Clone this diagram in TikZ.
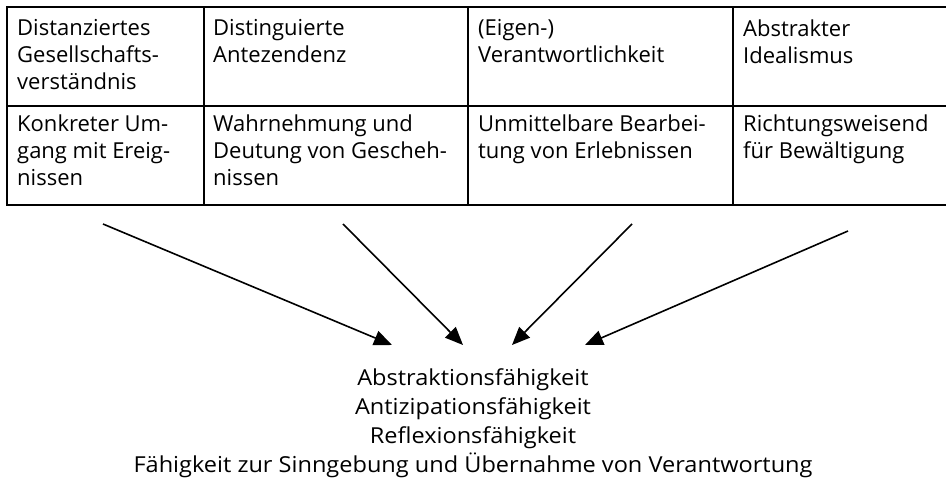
\documentclass[tikz,border=0pt]{standalone}
\usepackage{fontspec}
\setmainfont{Open Sans}
\newfontfamily\goalfamily[FakeStretch=1.07]{Open Sans}
\usepackage{tikz}
\usetikzlibrary{arrows.meta}

\newcommand{\cellfont}{\fontsize{22}{27}\selectfont}
\newcommand{\goalfont}{\goalfamily\fontsize{22}{28.7}\selectfont}

\begin{document}
\begin{tikzpicture}
  [x=1pt,y=-1pt,
   every node/.style={inner sep=0pt, anchor=north west, align=left, font=\cellfont,
     execute at begin node=\strut},
   grid/.style={line width=2pt},
   pointer/.style={line width=1.6pt, -{Triangle[length=18pt,width=15pt]}}]
  \useasboundingbox (0,0) rectangle (946,481);

  % table
  \draw [grid] (946,7) -- (7,7) -- (7,205) -- (946,205);
  \draw [grid] (7,106) -- (946,106);
  \foreach \x in {204,468,733}
    \draw [grid] (\x,7) -- (\x,205);

  \node (A) at (17,19.5) {Distanziertes\\Gesellschafts-\\verständnis};
  \node (B) at (213,19.5) {Distinguierte\\Antezendenz};
  \node (C) at (478,19.5) {(Eigen-)\\Verantwortlichkeit};
  \node (D) at (743,19.5) {Abstrakter\\Idealismus};

  \node (AA) at (17,114.1) {Konkreter Um-\\gang mit Ereig-\\nissen};
  \node (BB) at (213,114.1) {Wahrnehmung und\\Deutung von Gescheh-\\nissen};
  \node (CC) at (478,114.1) {Unmittelbare Bearbei-\\tung von Erlebnissen};
  \node (DD) at (743,114.1) {Richtungsweisend\\für Bewältigung};

  % arrows
  \coordinate (a1) at (103,224);
  \coordinate (a2) at (343,224);
  \coordinate (a3) at (632,224);
  \coordinate (a4) at (848,231);
  \coordinate (b1) at (392,345);
  \coordinate (b2) at (463,345);
  \coordinate (b3) at (512,345);
  \coordinate (b4) at (585,345);

  \path [pointer]
  (a1) edge (b1)
  (a2) edge (b2)
  (a3) edge (b3)
  (a4) edge (b4);

  \node [anchor=north, align=center, font=\goalfont] (E) at (473,368.9)
    {Abstraktionsfähigkeit\\Antizipationsfähigkeit\\Reflexionsfähigkeit\\Fähigkeit zur Sinngebung und Übernahme von Verantwortung};

\end{tikzpicture}
\end{document}
